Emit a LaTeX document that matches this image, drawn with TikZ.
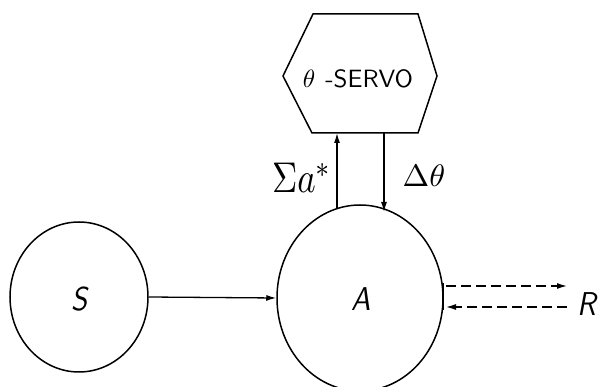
\documentclass[tikz,border=0pt]{standalone}
\usepackage{fontspec}
\usetikzlibrary{arrows.meta,shapes.geometric}
\newcommand{\biglbl}[1]{\scalebox{2.9}[3.3]{\sffamily\slshape #1}}
\begin{document}
\begin{tikzpicture}[x=1pt,y=-1pt,
  line width=1.5pt,
  conn/.style={line width=1.3pt,-{Latex[length=10pt,width=6pt]}},
  dconn/.style={line width=1.3pt,-{Latex[length=10pt,width=6pt]}, dash pattern=on 10pt off 5pt},
  lbl/.style={inner sep=0pt},
  circ/.style={draw, ellipse, inner sep=0pt}]
\useasboundingbox (0,0) rectangle (598,387);
% nodes
\node[circ, minimum width=138pt, minimum height=150pt] (S) at (79,297) {};
\node[lbl] (Slbl) at (80,299) {\biglbl{S}};
\node[circ, minimum width=166pt, minimum height=186pt] (A) at (360,298) {};
\node[lbl] (Albl) at (361,299) {\biglbl{A}};
\draw (313,14) -- (418,14) -- (437,76) -- (418,133) -- (312,133) -- (283,76) -- cycle;
\node[lbl] (Hlbl) at (358,79) {\scalebox{2.5}[2.5]{$\theta$\hspace{4pt}{\sffamily\addfontfeatures{LetterSpace=10}-SERVO}}};
\node[lbl] (R) at (587,304) {\biglbl{R}};
% connectors
\coordinate (upb) at (337,209);
\coordinate (upt) at (337,133);
\coordinate (dnt) at (384,133);
\coordinate (dnb) at (384,212);
\draw[conn] (upb) -- (upt);
\draw[conn] (dnt) -- (dnb);
\node[lbl] (sig) at (302,178) {\scalebox{3.5}[4.3]{$\Sigma a^{*}$}};
\node[lbl] (dth) at (424,176) {\scalebox{3.2}[3.1]{$\Delta\theta$}};
\draw[conn] (S.east) -- (A.west);
\coordinate (r1) at (567,286);
\coordinate (a1) at (446,286);
\coordinate (r2) at (567,307);
\coordinate (a2) at (446,307);
\draw[dconn] (a1) -- (r1);
\draw[dconn] (r2) -- (a2);
\draw[line width=2pt] (443,283) -- (443,310);
\end{tikzpicture}
\end{document}
